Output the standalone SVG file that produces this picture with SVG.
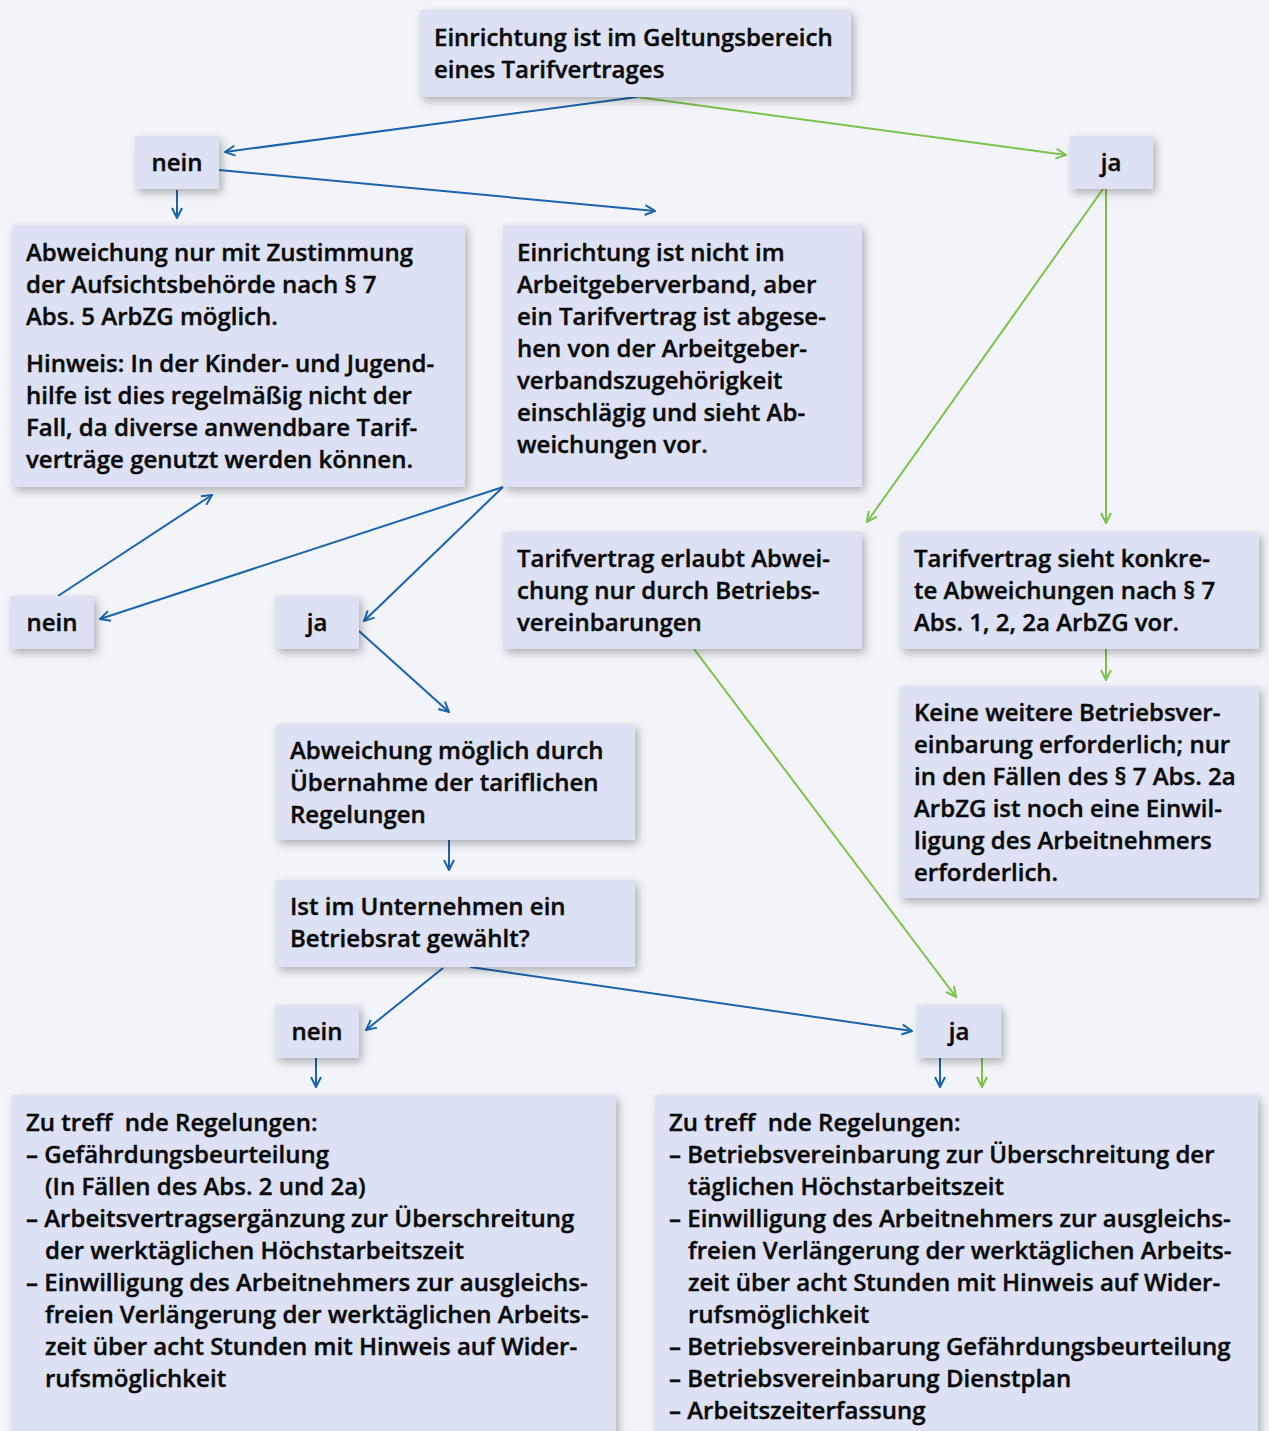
<svg xmlns="http://www.w3.org/2000/svg" width="1269" height="1431" viewBox="0 0 1269 1431">
<style>
.bx{fill:#dce1f3;filter:url(#sh)}
text{font-family:"Open Sans","Noto Sans",sans-serif;font-weight:600;font-size:24px;fill:#0a0a0a;stroke:#0a0a0a;stroke-width:0.4}
.c{text-anchor:middle}
.b{fill:none;stroke:#1a63ad;stroke-width:2;marker-end:url(#ab)}
.g{fill:none;stroke:#7cc14c;stroke-width:2;marker-end:url(#ag)}
</style>
<defs>
<filter id="sh" x="-10%" y="-10%" width="130%" height="140%">
<feDropShadow dx="3" dy="4" stdDeviation="4" flood-color="#000" flood-opacity="0.28"/>
</filter>
<marker id="ab" viewBox="0 0 12 12" refX="11" refY="6" markerWidth="12" markerHeight="12" markerUnits="userSpaceOnUse" orient="auto">
<path d="M1,1 L11,6 L1,11" fill="none" stroke="#1a63ad" stroke-width="2"/>
</marker>
<marker id="ag" viewBox="0 0 12 12" refX="11" refY="6" markerWidth="12" markerHeight="12" markerUnits="userSpaceOnUse" orient="auto">
<path d="M1,1 L11,6 L1,11" fill="none" stroke="#7cc14c" stroke-width="2"/>
</marker>
</defs>
<rect width="1269" height="1431" fill="#f2f4f9"/>

<g id="connectors">
<path class="b" d="M637,97 L225,152"/>
<path class="g" d="M637,97 L1066,155"/>
<path class="b" d="M177,190 L177,218"/>
<path class="b" d="M219,170 L655,211"/>
<path class="g" d="M1103,189 L867,522"/>
<path class="g" d="M1106,189 L1106,523"/>
<path class="b" d="M503,487 L100,619"/>
<path class="b" d="M503,487 L364,621"/>
<path class="b" d="M58,596 L212,495"/>
<path class="b" d="M359,631 L449,712"/>
<path class="b" d="M449,840 L449,870"/>
<path class="b" d="M443,968 L366,1030"/>
<path class="b" d="M470,967 L912,1031"/>
<path class="g" d="M694,649 L956,997"/>
<path class="g" d="M1106,649 L1106,680"/>
<path class="b" d="M316,1058 L316,1087"/>
<path class="b" d="M940,1058 L940,1087"/>
<path class="g" d="M982,1058 L982,1087"/>
</g>

<g id="n1"><rect class="bx" x="420" y="10" width="431" height="87"/>
<text x="434" y="46">Einrichtung ist im Geltungsbereich</text>
<text x="434" y="78">eines Tarifvertrages</text></g>

<g id="n2"><rect class="bx" x="135" y="136" width="84" height="53"/>
<text class="c" x="177" y="171">nein</text></g>

<g id="n3"><rect class="bx" x="1070" y="136" width="83" height="53"/>
<text class="c" x="1111" y="171">ja</text></g>

<g id="n4"><rect class="bx" x="12" y="225" width="453" height="262"/>
<text x="26" y="261">Abweichung nur mit Zustimmung</text>
<text x="26" y="293">der Aufsichtsbehörde nach § 7</text>
<text x="26" y="325">Abs. 5 ArbZG möglich.</text>
<text x="26" y="372">Hinweis: In der Kinder- und Jugend-</text>
<text x="26" y="404">hilfe ist dies regelmäßig nicht der</text>
<text x="26" y="436">Fall, da diverse anwendbare Tarif-</text>
<text x="26" y="468">verträge genutzt werden können.</text></g>

<g id="n5"><rect class="bx" x="503" y="225" width="359" height="262"/>
<text x="517" y="261">Einrichtung ist nicht im</text>
<text x="517" y="293">Arbeitgeberverband, aber</text>
<text x="517" y="325">ein Tarifvertrag ist abgese-</text>
<text x="517" y="357">hen von der Arbeitgeber-</text>
<text x="517" y="389">verbandszugehörigkeit</text>
<text x="517" y="421">einschlägig und sieht Ab-</text>
<text x="517" y="453">weichungen vor.</text></g>

<g id="n6"><rect class="bx" x="10" y="596" width="84" height="53"/>
<text class="c" x="52" y="631">nein</text></g>

<g id="n7"><rect class="bx" x="275" y="596" width="84" height="53"/>
<text class="c" x="317" y="631">ja</text></g>

<g id="n8"><rect class="bx" x="503" y="532" width="359" height="117"/>
<text x="517" y="567">Tarifvertrag erlaubt Abwei-</text>
<text x="517" y="599">chung nur durch Betriebs-</text>
<text x="517" y="631">vereinbarungen</text></g>

<g id="n9"><rect class="bx" x="900" y="532" width="359" height="117"/>
<text x="914" y="567">Tarifvertrag sieht konkre-</text>
<text x="914" y="599">te Abweichungen nach § 7</text>
<text x="914" y="631">Abs. 1, 2, 2a ArbZG vor.</text></g>

<g id="n10"><rect class="bx" x="900" y="686" width="359" height="212"/>
<text x="914" y="721">Keine weitere Betriebsver-</text>
<text x="914" y="753">einbarung erforderlich; nur</text>
<text x="914" y="785">in den Fällen des § 7 Abs. 2a</text>
<text x="914" y="817">ArbZG ist noch eine Einwil-</text>
<text x="914" y="849">ligung des Arbeitnehmers</text>
<text x="914" y="881">erforderlich.</text></g>

<g id="n11"><rect class="bx" x="276" y="724" width="359" height="116"/>
<text x="290" y="759">Abweichung möglich durch</text>
<text x="290" y="791">Übernahme der tariflichen</text>
<text x="290" y="823">Regelungen</text></g>

<g id="n12"><rect class="bx" x="276" y="880" width="359" height="87"/>
<text x="290" y="915">Ist im Unternehmen ein</text>
<text x="290" y="947">Betriebsrat gewählt?</text></g>

<g id="n13"><rect class="bx" x="275" y="1005" width="84" height="53"/>
<text class="c" x="317" y="1040">nein</text></g>

<g id="n14"><rect class="bx" x="917" y="1005" width="84" height="53"/>
<text class="c" x="959" y="1040">ja</text></g>

<g id="n15"><rect class="bx" x="12" y="1095" width="604" height="360"/>
<text x="26" y="1131" xml:space="preserve">Zu treff  nde Regelungen:</text>
<text x="26" y="1163">– Gefährdungsbeurteilung</text>
<text x="45" y="1195">(In Fällen des Abs. 2 und 2a)</text>
<text x="26" y="1227">– Arbeitsvertragsergänzung zur Überschreitung</text>
<text x="45" y="1259">der werktäglichen Höchstarbeitszeit</text>
<text x="26" y="1291">– Einwilligung des Arbeitnehmers zur ausgleichs-</text>
<text x="45" y="1323">freien Verlängerung der werktäglichen Arbeits-</text>
<text x="45" y="1355">zeit über acht Stunden mit Hinweis auf Wider-</text>
<text x="45" y="1387">rufsmöglichkeit</text></g>

<g id="n16"><rect class="bx" x="655" y="1095" width="603" height="360"/>
<text x="669" y="1131" xml:space="preserve">Zu treff  nde Regelungen:</text>
<text x="669" y="1163">– Betriebsvereinbarung zur Überschreitung der</text>
<text x="688" y="1195">täglichen Höchstarbeitszeit</text>
<text x="669" y="1227">– Einwilligung des Arbeitnehmers zur ausgleichs-</text>
<text x="688" y="1259">freien Verlängerung der werktäglichen Arbeits-</text>
<text x="688" y="1291">zeit über acht Stunden mit Hinweis auf Wider-</text>
<text x="688" y="1323">rufsmöglichkeit</text>
<text x="669" y="1355">– Betriebsvereinbarung Gefährdungsbeurteilung</text>
<text x="669" y="1387">– Betriebsvereinbarung Dienstplan</text>
<text x="669" y="1419">– Arbeitszeiterfassung</text></g>
</svg>
